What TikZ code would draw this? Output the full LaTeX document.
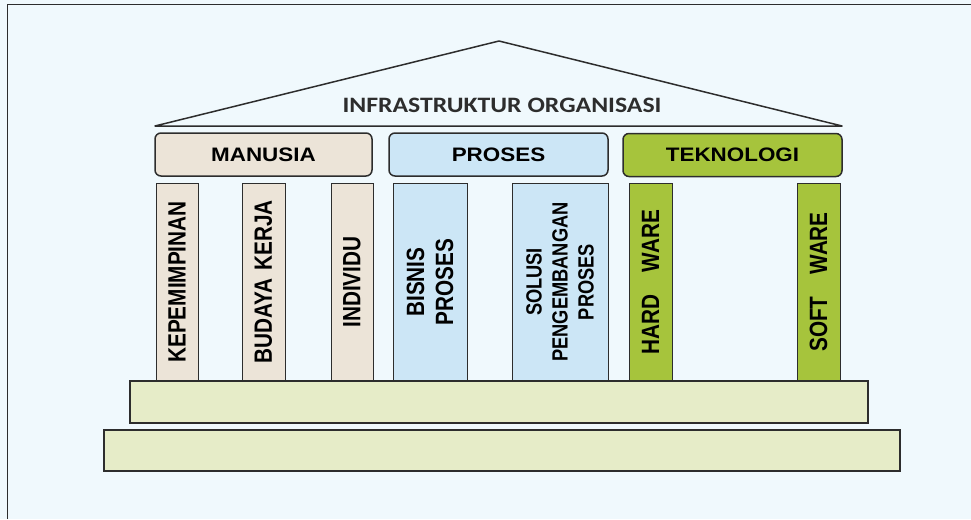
\documentclass[tikz,border=0pt]{standalone}
\usepackage{fontspec}
\setmainfont{Liberation Sans}
\newfontfamily\kepalafont[FakeStretch=1.15]{Liberation Sans}
\newfontfamily\tiangfont[FakeStretch=0.83]{Liberation Sans}
\newfontfamily\judulfont[FakeStretch=1.17]{Carlito}
\definecolor{latar}{RGB}{240,249,253}
\definecolor{garis}{RGB}{45,45,45}
\definecolor{krem}{RGB}{236,228,216}
\definecolor{biru}{RGB}{204,230,246}
\definecolor{hijau}{RGB}{166,196,60}
\definecolor{lantaihijau}{RGB}{230,236,200}

\begin{document}
\begin{tikzpicture}[x=1pt,y=-1pt,
	kepala/.style={draw=garis, line width=1.5pt, rounded corners=6pt, inner sep=0pt, minimum height=43pt, font=\kepalafont\bfseries\fontsize{19.5}{22}\selectfont},
	tiang/.style={draw=garis, line width=0.8pt, inner sep=0pt, rotate=90, minimum width=198pt, align=center, font=\tiangfont\bfseries\fontsize{25}{29}\selectfont},
	lantai/.style={draw=garis, line width=1.5pt, fill=lantaihijau, inner sep=0pt}]

\useasboundingbox (0,0) rectangle (971,519);
\fill[latar] (0,0) rectangle (971,519);
\draw[garis, line width=1pt] (7,519) -- (7,5) -- (971,5);

\draw[garis, line width=1.5pt, line join=round] (155,126) -- (499,41) -- (842,126) -- cycle;
\node[font=\judulfont\bfseries\fontsize{22}{24}\selectfont, text=garis] (judul) at (502,105) {INFRASTRUKTUR ORGANISASI};

\node[kepala, fill=krem, minimum width=217pt] (manusia) at (263.5,154.5) {MANUSIA};
\node[kepala, fill=biru, minimum width=219pt] (proses) at (498.5,154.5) {PROSES};
\node[kepala, fill=hijau, minimum width=219pt] (teknologi) at (732.5,155) {TEKNOLOGI};

\node[tiang, fill=krem, minimum height=42pt] (kepemimpinan) at (177,282) {KEPEMIMPINAN};
\node[tiang, fill=krem, minimum height=43pt] (budaya) at (263.5,282) {BUDAYA\hspace{8pt}KERJA};
\node[tiang, fill=krem, minimum height=42pt] (individu) at (352,282) {INDIVIDU};
\node[tiang, fill=biru, minimum height=74pt] (bisnis) at (430,282) {BISNIS\\PROSES};
\node[tiang, fill=biru, minimum height=96pt, font=\tiangfont\bfseries\fontsize{22}{26}\selectfont] (solusi) at (560,282) {SOLUSI\\PENGEMBANGAN\\PROSES};
\node[tiang, fill=hijau, minimum height=43pt] (hard) at (650.5,282) {HARD\hspace{22pt}WARE};
\node[tiang, fill=hijau, minimum height=43pt] (soft) at (818.5,282) {SOFT\hspace{22pt}WARE};

\node[lantai, minimum width=738pt, minimum height=42pt] (lantaiatas) at (499,402) {};
\node[lantai, minimum width=796pt, minimum height=41pt] (lantaibawah) at (502,450.5) {};
\end{tikzpicture}
\end{document}
